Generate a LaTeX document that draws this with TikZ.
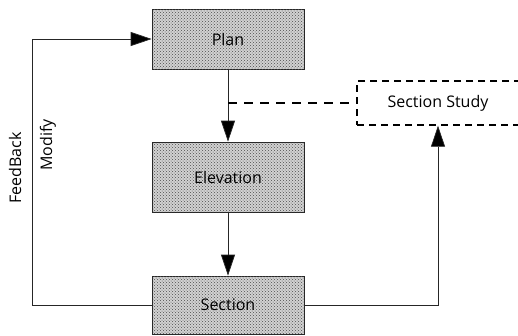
\documentclass[tikz,border=0pt]{standalone}
\usepackage{fontspec}
\setmainfont{Open Sans}
\usetikzlibrary{arrows.meta,patterns}
\begin{document}
\begin{tikzpicture}[x=1pt,y=-1pt,
  txt/.style={font=\fontsize{16}{19}\selectfont},
  stage/.style={txt,draw=gray!30!black,line width=0.7pt,fill=gray!35,
    postaction={pattern=crosshatch dots,pattern color=gray!60!black},
    minimum width=152pt,inner sep=0pt},
  study/.style={txt,draw=black,line width=1.4pt,dash pattern=on 7pt off 5pt,
    minimum width=162pt,minimum height=44pt,inner sep=0pt},
  link/.style={draw=gray!30!black,line width=0.7pt},
  bigtip/.style={-{Triangle[length=21pt,width=14pt,fill=black]}},
  side/.style={txt,rotate=90}]
  \useasboundingbox (0,0) rectangle (518,335);
  % main stages
  \node[stage,minimum height=60pt] (plan) at (228,39) {Plan};
  \node[stage,minimum height=70pt] (elev) at (228,177) {Elevation};
  \node[stage,minimum height=58pt] (sect) at (228,305) {Section};
  % side study box
  \node[study] (study) at (438,103) {Section Study};
  % forward flow
  \draw[link,bigtip] (plan.south) -- (elev.north);
  \draw[link,bigtip] (elev.south) -- (sect.north);
  % dashed tie to the study
  \coordinate (tap) at (plan.south |- study.west);
  \draw[black,line width=1.4pt,dash pattern=on 9pt off 7pt] (tap) -- (study.west);
  % section feeds the study
  \draw[link,bigtip] (sect.east) -| (study.south);
  % feedback loop
  \coordinate (loopbot) at (32,305);
  \coordinate (looptop) at (32,39);
  \draw[link,bigtip] (sect.west) -- (loopbot) -- (looptop) -- (plan.west);
  \node[side] (fb) at (15,168) {FeedBack};
  \node[side] (mod) at (48,145) {Modify};
\end{tikzpicture}
\end{document}
